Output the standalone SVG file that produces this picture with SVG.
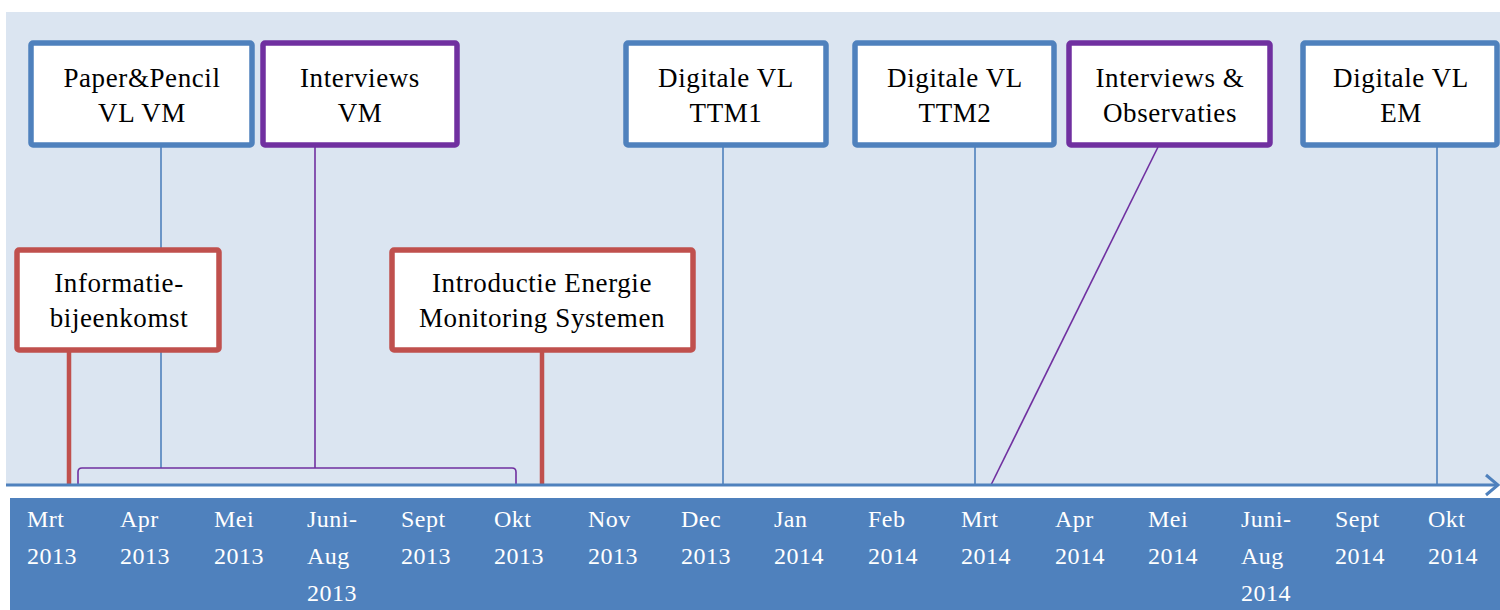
<svg xmlns="http://www.w3.org/2000/svg" width="1500" height="610" viewBox="0 0 1500 610">
<style>
.box{fill:#ffffff;stroke-width:5.5;}
.blue{stroke:#4f81bd;}
.purple{stroke:#7030a0;}
.red{stroke:#c0504d;}
.bt{font-family:"Liberation Serif","Times New Roman",serif;font-size:27px;fill:#000000;text-anchor:middle;letter-spacing:0.6px;}
.mt{font-family:"Liberation Serif","Times New Roman",serif;font-size:24px;fill:#ffffff;letter-spacing:0.5px;}
.ln{fill:none;}
</style>
<rect x="0" y="0" width="1500" height="610" fill="#ffffff"/>
<rect x="6" y="12" width="1494" height="473" fill="#dbe5f1"/>
<rect x="10" y="498" width="1490" height="112" fill="#4f81bd"/>

<g id="connectors">
<line class="ln blue" x1="161" y1="147" x2="161" y2="468" stroke-width="1.6"/>
<line class="ln purple" x1="315" y1="147" x2="315" y2="468" stroke-width="1.6"/>
<path class="ln purple" d="M78,485 V472 Q78,468 82,468 H512 Q516,468 516,472 V485" stroke-width="1.6"/>
<line class="ln red" x1="69" y1="352" x2="69" y2="485" stroke-width="4.5"/>
<line class="ln red" x1="542" y1="352" x2="542" y2="485" stroke-width="4.5"/>
<line class="ln blue" x1="723" y1="147" x2="723" y2="485" stroke-width="1.6"/>
<line class="ln blue" x1="975" y1="147" x2="975" y2="485" stroke-width="1.6"/>
<line class="ln purple" x1="1158" y1="147" x2="991" y2="485" stroke-width="1.6"/>
<line class="ln blue" x1="1437" y1="147" x2="1437" y2="485" stroke-width="1.6"/>
<line class="ln blue" x1="6" y1="485" x2="1498" y2="485" stroke-width="3"/>
<polyline class="ln blue" points="1486,475 1498,485 1486,495" stroke-width="3"/>
</g>

<g id="node-paperpencil">
<rect class="box blue" x="31" y="43" width="221" height="102" rx="2"/>
<text class="bt" x="142" y="87">Paper&amp;Pencil</text>
<text class="bt" x="142" y="122">VL VM</text>
</g>
<g id="node-interviews-vm">
<rect class="box purple" x="263" y="43" width="194" height="102" rx="2"/>
<text class="bt" x="360" y="87">Interviews</text>
<text class="bt" x="360" y="122">VM</text>
</g>
<g id="node-ttm1">
<rect class="box blue" x="626" y="43" width="200" height="102" rx="2"/>
<text class="bt" x="726" y="87">Digitale VL</text>
<text class="bt" x="726" y="122">TTM1</text>
</g>
<g id="node-ttm2">
<rect class="box blue" x="855" y="43" width="199" height="102" rx="2"/>
<text class="bt" x="955" y="87">Digitale VL</text>
<text class="bt" x="955" y="122">TTM2</text>
</g>
<g id="node-interviews-obs">
<rect class="box purple" x="1069" y="43" width="201" height="102" rx="2"/>
<text class="bt" x="1170" y="87">Interviews &amp;</text>
<text class="bt" x="1170" y="122">Observaties</text>
</g>
<g id="node-em">
<rect class="box blue" x="1303" y="43" width="194" height="102" rx="2"/>
<text class="bt" x="1401" y="87">Digitale VL</text>
<text class="bt" x="1401" y="122">EM</text>
</g>
<g id="node-informatie">
<rect class="box red" x="17" y="250" width="202" height="100" rx="2"/>
<text class="bt" x="119" y="292">Informatie-</text>
<text class="bt" x="119" y="327">bijeenkomst</text>
</g>
<g id="node-introductie">
<rect class="box red" x="392" y="250" width="301" height="100" rx="2"/>
<text class="bt" x="542" y="292">Introductie Energie</text>
<text class="bt" x="542" y="327">Monitoring Systemen</text>
</g>

<g id="axis-labels">
<text class="mt" x="27" y="527">Mrt</text><text class="mt" x="27" y="564">2013</text>
<text class="mt" x="120" y="527">Apr</text><text class="mt" x="120" y="564">2013</text>
<text class="mt" x="214" y="527">Mei</text><text class="mt" x="214" y="564">2013</text>
<text class="mt" x="307" y="527">Juni-</text><text class="mt" x="307" y="564">Aug</text><text class="mt" x="307" y="601">2013</text>
<text class="mt" x="401" y="527">Sept</text><text class="mt" x="401" y="564">2013</text>
<text class="mt" x="494" y="527">Okt</text><text class="mt" x="494" y="564">2013</text>
<text class="mt" x="588" y="527">Nov</text><text class="mt" x="588" y="564">2013</text>
<text class="mt" x="681" y="527">Dec</text><text class="mt" x="681" y="564">2013</text>
<text class="mt" x="774" y="527">Jan</text><text class="mt" x="774" y="564">2014</text>
<text class="mt" x="868" y="527">Feb</text><text class="mt" x="868" y="564">2014</text>
<text class="mt" x="961" y="527">Mrt</text><text class="mt" x="961" y="564">2014</text>
<text class="mt" x="1055" y="527">Apr</text><text class="mt" x="1055" y="564">2014</text>
<text class="mt" x="1148" y="527">Mei</text><text class="mt" x="1148" y="564">2014</text>
<text class="mt" x="1241" y="527">Juni-</text><text class="mt" x="1241" y="564">Aug</text><text class="mt" x="1241" y="601">2014</text>
<text class="mt" x="1335" y="527">Sept</text><text class="mt" x="1335" y="564">2014</text>
<text class="mt" x="1428" y="527">Okt</text><text class="mt" x="1428" y="564">2014</text>
</g>
</svg>
